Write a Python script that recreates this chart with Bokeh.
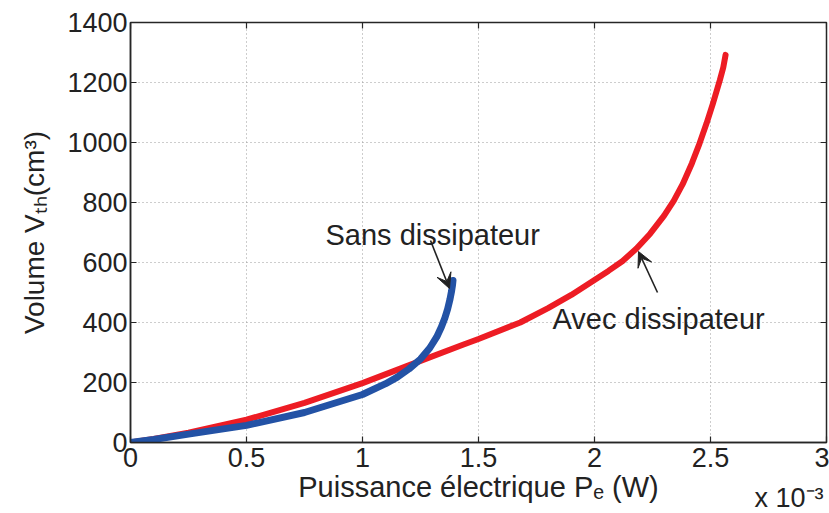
import math
from bokeh.plotting import figure
from bokeh.models import Range1d, FixedTicker, Label, Arrow, VeeHead, Title
from bokeh.embed import file_html
from bokeh.resources import INLINE

# ---- data (power in units of 1e-3 W, volume in cm^3) ----
p_avec = [0, 0.1, 0.25, 0.5, 0.75, 1.0, 1.25, 1.43, 1.5, 1.68, 1.8, 1.9, 2.0, 2.06, 2.12, 2.18, 2.24, 2.3,
          2.342, 2.38, 2.42, 2.45, 2.483, 2.51, 2.54, 2.555, 2.565]
v_avec = [0, 12, 33, 76, 132, 198, 272, 325, 345, 400, 448, 492, 542, 572, 604, 646, 696, 756,
          806, 861, 931, 991, 1064, 1129, 1207, 1250, 1292]

p_sans = [0, 0.1, 0.25, 0.5, 0.75, 1.0, 1.1, 1.15, 1.2, 1.25, 1.29, 1.32, 1.34, 1.355, 1.367, 1.377, 1.384, 1.388, 1.39]
v_sans = [0, 10, 28, 57, 100, 160, 196, 218, 245, 278, 315, 352, 385, 415, 445, 477, 505, 525, 540]

x_ticks = [0, 0.5, 1, 1.5, 2, 2.5, 3]
x_tick_labels = ["0", "0.5", "1", "1.5", "2", "2.5", "3"]
y_ticks = [0, 200, 400, 600, 800, 1000, 1200, 1400]
y_tick_labels = ["0", "200", "400", "600", "800", "1000", "1200", "1400"]

x_title = "Puissance électrique P\u2091 (W)"
y_title = "Volume V\u209c\u2095(cm\u00b3)"
x_exponent = "x 10\u207b\u00b3"

FONT = "Liberation Sans"
TXT = "#222222"
RED = "#ED1C24"
BLUE = "#2352A5"
AXC = "#262626"

p = figure(width=829, height=513, output_backend="svg", toolbar_location=None,
           x_range=Range1d(0, 3), y_range=Range1d(0, 1400),
           min_border_left=130, min_border_right=3, min_border_top=22, min_border_bottom=71)
p.background_fill_color = "white"
p.border_fill_color = "white"
p.outline_line_color = AXC
p.outline_line_width = 1.5

# axes
p.xaxis.ticker = FixedTicker(ticks=x_ticks)
p.yaxis.ticker = FixedTicker(ticks=y_ticks)
p.xaxis.major_label_overrides = {t: l for t, l in zip(x_ticks, x_tick_labels)}
p.yaxis.major_label_overrides = {t: l for t, l in zip(y_ticks, y_tick_labels)}
for ax in (p.xaxis[0], p.yaxis[0]):
    ax.major_tick_in = 6
    ax.major_tick_out = 0
    ax.minor_tick_line_color = None
    ax.axis_line_color = AXC
    ax.axis_line_width = 1.5
    ax.major_tick_line_color = AXC
    ax.major_tick_line_width = 1.2
    ax.major_label_text_font = FONT
    ax.major_label_text_font_size = "27px"
    ax.major_label_text_color = TXT
    ax.axis_label_text_font = FONT
    ax.axis_label_text_font_style = "normal"
    ax.axis_label_text_color = TXT
p.xaxis.major_label_standoff = 5
p.yaxis.major_label_standoff = 3
p.xaxis.axis_label = x_title
p.xaxis.axis_label_text_font_size = "29px"
p.xaxis.axis_label_standoff = 1
p.yaxis.axis_label = y_title
p.yaxis.axis_label_text_font_size = "28px"
p.yaxis.axis_label_standoff = 14

# x10^-3 exponent, in the panel below the x axis, right-aligned with the box
p.add_layout(Title(text=x_exponent, align="right", vertical_align="top", text_font=FONT,
                   text_font_size="27px", text_font_style="normal", text_color=TXT,
                   standoff=-45, offset=3), "below")

# inward ticks on the top and right sides of the box (from the tick lists)
p.segment(x0=x_ticks, y0=[1400] * len(x_ticks), x1=x_ticks, y1=[1400 - 20] * len(x_ticks),
          line_color=AXC, line_width=1.2)
p.segment(x0=[3] * len(y_ticks), y0=y_ticks, x1=[3 - 6 / 232] * len(y_ticks), y1=y_ticks,
          line_color=AXC, line_width=1.2)

p.grid.grid_line_color = "#9a9a9a"
p.grid.grid_line_dash = "1 3"
p.grid.grid_line_width = 1

# curves
p.line(p_avec, v_avec, line_color=RED, line_width=6, line_join="round", line_cap="round")
p.line(p_sans, v_sans, line_color=BLUE, line_width=7, line_join="round", line_cap="round")

# helpers: page pixel -> data
def dx(px):
    return (px - 130) / 232.0

def dy(py):
    return (442 - py) / 0.3

def lab(text, px, py, size):
    p.add_layout(Label(x=dx(px), y=dy(py), text=text, text_font=FONT,
                       text_font_size=f"{size}px", text_color=TXT,
                       text_align="left", text_baseline="alphabetic"))

# annotations inside the axes
lab("Sans dissipateur", 325, 234, 29)
lab("Avec dissipateur", 552, 318, 29)
p.add_layout(Arrow(end=VeeHead(size=15, fill_color=TXT, line_color=TXT),
                   x_start=dx(430), y_start=dy(240), x_end=dx(449), y_end=dy(288),
                   line_color=TXT, line_width=1.6))
p.add_layout(Arrow(end=VeeHead(size=15, fill_color=TXT, line_color=TXT),
                   x_start=dx(657), y_start=dy(292), x_end=dx(638), y_end=dy(251),
                   line_color=TXT, line_width=1.6))

open("out.html", "w").write(file_html(p, INLINE))
